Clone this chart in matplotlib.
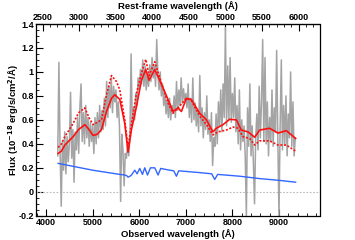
import numpy as np
import matplotlib
matplotlib.use('Agg')
import matplotlib.pyplot as plt
from matplotlib.ticker import MultipleLocator, FixedLocator

plt.rcParams['font.family'] = ['Liberation Sans', 'DejaVu Sans']
plt.rcParams['font.weight'] = 'bold'

zp1 = 1.57  # 1 + z

# observed spectrum (grey), 25 A steps from 4250 to 9350
spec_wave = np.arange(4250, 9351, 25)
spec_flux = [
    0.30, 1.08, 0.35, -0.12, 0.42, 0.18, 0.50, 0.15, 0.46, 0.25,
    0.40, 0.83, 0.28, 0.52, 0.08, 0.50, 0.35, 0.62, 0.32, 0.70,
    0.90, 0.42, 0.66, 0.40, 0.72, 0.45, 0.62, 0.38, 0.58, 0.42,
    0.55, 0.32, 0.62, 0.40, 0.66, 0.45, 0.72, 0.50, 0.68, 0.52,
    0.78, 0.55, 0.92, 0.62, 0.88, 0.70, 0.95, 0.66, 0.88, 0.75,
    0.85, 0.62, 0.75, 0.55, -0.08, 0.48, 0.35, 0.05, 0.32, 0.28,
    0.40, 0.30, 0.48, 1.15, 0.55, 0.70, 0.60, 0.82, 0.72, 0.95,
    0.85, 1.02, 0.90, 1.10, 0.88, 1.05, 0.85, 0.98, 0.88, 1.06,
    0.92, 1.12, 0.95, 1.05, 0.88, 1.27, 0.98, 0.85, 1.00, 0.80,
    0.90, 0.72, 0.82, 0.65, 0.76, 0.62, 0.78, 0.60, 0.72, 0.66,
    0.80, 0.62, 0.92, 0.68, 0.85, 0.72, 0.95, 0.74, 0.86, 0.76,
    0.82, 0.70, 0.90, 0.62, 0.78, 0.58, 0.95, 0.60, 0.74, 0.55,
    0.68, 0.50, 0.97, 0.55, 0.70, 0.45, 0.66, 0.52, 0.80, 0.48,
    0.60, 0.42, 0.66, 0.22, 0.45, 0.38, 0.65, 0.40, 0.75, 0.55,
    0.85, 0.50, 0.90, 0.62, 1.37, 0.55, 1.05, 0.60, 1.12, 0.58,
    0.82, 0.62, 0.95, 0.50, 0.72, 0.40, 0.85, 0.35, 0.60, 0.42,
    0.55, 0.30, -0.20, 0.70, 0.38, 0.90, 0.30, 0.55, 0.25, -0.10,
    0.45, 0.65, 0.35, 0.88, 0.45, 0.75, 1.27, 0.42, 1.12, 0.40,
    0.75, 0.30, 0.62, 0.42, 0.85, 0.38, 0.70, 0.50, 1.18, 0.45,
    -0.20, 0.55, 1.10, 0.35, 0.72, 0.40, 0.80, 0.30, 0.65, 0.45,
    1.00, 0.38, 0.75, 0.30, 0.45,
]

# model 1 (solid red)
m1_wave = [4258, 4330, 4402, 4580, 4700, 4831, 4900, 5009, 5100, 5189, 5297,
           5404, 5475, 5582, 5689, 5760, 5833, 5940, 6047, 6140, 6210, 6333,
           6440, 6618, 6725, 6832, 6905, 7012, 7120, 7298, 7442, 7583, 7656,
           7798, 7941, 8085, 8192, 8334, 8478, 8585, 8799, 8977, 9158, 9357]
m1_flux = [0.32, 0.34, 0.39, 0.46, 0.52, 0.56, 0.53, 0.47, 0.48, 0.52, 0.67,
           0.78, 0.81, 0.77, 0.57, 0.33, 0.52, 0.71, 0.93, 1.02, 0.93, 1.02,
           0.93, 0.77, 0.67, 0.70, 0.67, 0.78, 0.77, 0.655, 0.60, 0.50, 0.53,
           0.56, 0.605, 0.60, 0.515, 0.50, 0.455, 0.515, 0.53, 0.49, 0.51, 0.445]

# model 2 (dotted red)
m2_wave = [4258, 4330, 4402, 4580, 4700, 4831, 4920, 5009, 5189, 5297, 5404,
           5511, 5582, 5689, 5760, 5833, 5940, 6047, 6140, 6210, 6333, 6440,
           6618, 6725, 6832, 7012, 7120, 7298, 7442, 7583, 7690, 7870, 8012,
           8119, 8227, 8370, 8478, 8585, 8799, 8977, 9158, 9357]
m2_flux = [0.37, 0.40, 0.46, 0.57, 0.66, 0.70, 0.62, 0.56, 0.60, 0.81, 0.97,
           0.92, 0.85, 0.60, 0.365, 0.57, 0.82, 0.99, 1.105, 0.97, 1.085, 0.95,
           0.74, 0.655, 0.70, 0.78, 0.76, 0.63, 0.56, 0.475, 0.50, 0.515, 0.54,
           0.53, 0.46, 0.445, 0.39, 0.425, 0.425, 0.39, 0.39, 0.34]

# blue curve
b_wave = [4258, 5003, 5582, 5689, 5730, 5760, 5800, 5833, 5904, 5953, 6011,
          6069, 6118, 6177, 6241, 6333, 6404, 6461, 6654, 6740, 6798, 6847,
          7298, 7555, 7620, 7684, 8156, 8585, 9014, 9357]
b_flux = [0.237, 0.18, 0.145, 0.14, 0.135, 0.122, 0.13, 0.14, 0.18, 0.15, 0.195,
          0.145, 0.20, 0.14, 0.20, 0.20, 0.14, 0.195, 0.18, 0.175, 0.13, 0.175,
          0.16, 0.15, 0.103, 0.145, 0.13, 0.11, 0.095, 0.08]

rest_ticks = [2500, 3000, 3500, 4000, 4500, 5000, 5500, 6000]

fig = plt.figure(figsize=(3.55, 2.4), dpi=100)
ax = fig.add_axes([0.101, 0.101, 0.799, 0.799])

ax.axhline(0, color='#bbbbbb', lw=0.8, ls=(0, (1.5, 1.5)))
ax.plot(spec_wave, spec_flux, color='#a4a4a4', lw=1.1)
ax.plot(m2_wave, m2_flux, color='#ff1010', lw=1.2, ls=(0, (1.2, 1.0)))
ax.plot(m1_wave, m1_flux, color='#ff1010', lw=1.2)
ax.plot(b_wave, b_flux, color='#3366ff', lw=1.0)

ax.set_xlim(3780, 9870)
ax.set_ylim(-0.2, 1.4)
ax.xaxis.set_major_locator(MultipleLocator(1000))
ax.xaxis.set_minor_locator(MultipleLocator(200))
ax.yaxis.set_minor_locator(MultipleLocator(0.05))
ax.set_yticks([-0.2, 0, 0.2, 0.4, 0.6, 0.8, 1.0, 1.2, 1.4])
ax.set_yticklabels(['-0.2', '0', '0.2', '0.4', '0.6', '0.8', '1', '1.2', '1.4'])
ax.tick_params(which='both', direction='in', top=False, right=False,
               labelsize=6.5, pad=1.5)
ax.tick_params(which='major', length=5, width=0.8)
ax.tick_params(which='minor', length=2.5, width=0.6)
for sp in ax.spines.values():
    sp.set_linewidth(0.9)

top = ax.secondary_xaxis('top', functions=(lambda x: x / zp1, lambda x: x * zp1))
top.xaxis.set_major_locator(FixedLocator(rest_ticks))
top.xaxis.set_minor_locator(FixedLocator(list(range(2500, 6300, 100))))
top.tick_params(which='both', direction='in', labelsize=6.5, pad=1.5)
top.tick_params(which='major', length=5, width=0.8)
top.tick_params(which='minor', length=2.5, width=0.6)

fig.text(0.5, 0.975, 'Rest-frame wavelength (Å)', ha='center', va='center',
         fontsize=6.8, fontweight='bold')
fig.text(0.5, 0.025, 'Observed wavelength (Å)', ha='center', va='center',
         fontsize=6.8, fontweight='bold')
fig.text(0.038, 0.5, 'Flux (10$^{-18}$ erg/s/cm$^2$/Å)', ha='center', va='center',
         rotation=90, fontsize=6.8, fontweight='bold')

fig.savefig('out.png', dpi=100)
